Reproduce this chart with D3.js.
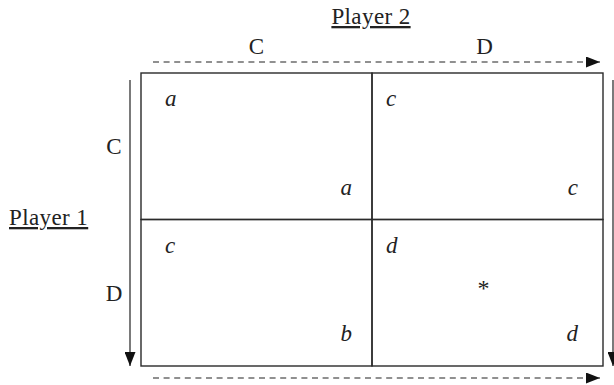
<!DOCTYPE html>
<html><head><meta charset="utf-8">
<script src="https://cdn.jsdelivr.net/npm/d3@7"></script>
<style>body{margin:0;background:#fff}svg{display:block}</style>
</head><body>
<script>
const strategies = ["C", "D"];
const player1 = "Player 1";
const player2 = "Player 2";
// payoffs: [row][col]
const upperLeft = [["a", "c"], ["c", "d"]];
const lowerRight = [["a", "c"], ["b", "d"]];
const equilibrium = [[false, false], [false, true]];

const W = 614, H = 385;
const svg = d3.select("body").append("svg").attr("width", W).attr("height", H);
const font = '"Liberation Serif"';

const x = d3.scaleBand().domain(strategies).range([141, 603]);
const y = d3.scaleBand().domain(strategies).range([73, 366]);

const defs = svg.append("defs");
defs.append("marker").attr("id", "ah").attr("viewBox", "0 0 14 11")
  .attr("refX", 14).attr("refY", 5.5).attr("markerWidth", 14).attr("markerHeight", 11)
  .attr("markerUnits", "userSpaceOnUse").attr("orient", "auto")
  .append("path").attr("d", "M0,0L14,5.5L0,11Z").attr("fill", "#111");

const g = svg.append("g");
const cells = [];
strategies.forEach((r, i) => strategies.forEach((c, j) => cells.push({r, c, i, j})));
g.selectAll("rect.cell").data(cells).join("rect")
  .attr("x", d => x(d.c)).attr("y", d => y(d.r))
  .attr("width", x.bandwidth()).attr("height", y.bandwidth())
  .attr("fill", "none").attr("stroke", "#2a2a2a").attr("stroke-width", 1.4);

function txt(sel) {
  return sel.style("font-family", font).attr("fill", "#222");
}

txt(g.selectAll("text.ul").data(cells).join("text"))
  .attr("x", d => x(d.c) + (d.j === 0 ? 24 : 14))
  .attr("y", d => y(d.r) + 33)
  .style("font-style", "italic").style("font-size", "23px")
  .text(d => upperLeft[d.i][d.j]);
txt(g.selectAll("text.lr").data(cells).join("text"))
  .attr("x", d => x(d.c) + x.bandwidth() - (d.j === 0 ? 20 : 25))
  .attr("y", d => y(d.r) + y.bandwidth() - 25)
  .attr("text-anchor", "end")
  .style("font-style", "italic").style("font-size", "23px")
  .text(d => lowerRight[d.i][d.j]);
txt(g.selectAll("text.eq").data(cells.filter(d => equilibrium[d.i][d.j])).join("text"))
  .attr("x", d => x(d.c) + x.bandwidth() / 2 - 4)
  .attr("y", d => y(d.r) + y.bandwidth() / 2 + 3)
  .attr("text-anchor", "middle")
  .style("font-size", "24px")
  .text("*");

txt(svg.selectAll("text.colLab").data(strategies).join("text"))
  .attr("x", d => x(d) + x.bandwidth() / 2 - (d === "C" ? 0 : 3))
  .attr("y", 54).attr("text-anchor", "middle")
  .style("font-size", "23px").text(d => d);
txt(svg.selectAll("text.rowLab").data(strategies).join("text"))
  .attr("x", 114).attr("y", d => y(d) + y.bandwidth() / 2 + 8)
  .attr("text-anchor", "middle")
  .style("font-size", "23px").text(d => d);

txt(svg.append("text")).attr("x", 371).attr("y", 24).attr("text-anchor", "middle")
  .style("font-size", "23px").style("letter-spacing", "0.4px")
  .style("text-decoration", "underline").text(player2);
txt(svg.append("text")).attr("x", 9).attr("y", 225)
  .style("font-size", "23px").style("letter-spacing", "0.4px")
  .style("text-decoration", "underline").text(player1);

const [x0, x1] = x.range();
const [y0, y1] = y.range();
const arrows = [
  {x1: x0 + 12, y1: 62, x2: x1 - 3, y2: 62, dash: "6,4.6"},
  {x1: x0 + 12, y1: y1 + 12, x2: x1 - 3, y2: y1 + 12, dash: "6,4.6"},
  {x1: x0 - 11, y1: y0 + 7, x2: x0 - 11, y2: y1, dash: null},
  {x1: x1 + 10, y1: y0 + 7, x2: x1 + 10, y2: y1, dash: null}
];
svg.selectAll("line.arr").data(arrows).join("line")
  .attr("x1", d => d.x1).attr("y1", d => d.y1).attr("x2", d => d.x2).attr("y2", d => d.y2)
  .attr("stroke", "#222").attr("stroke-width", 1.2)
  .attr("stroke-dasharray", d => d.dash)
  .attr("marker-end", "url(#ah)");
</script>
</body></html>
